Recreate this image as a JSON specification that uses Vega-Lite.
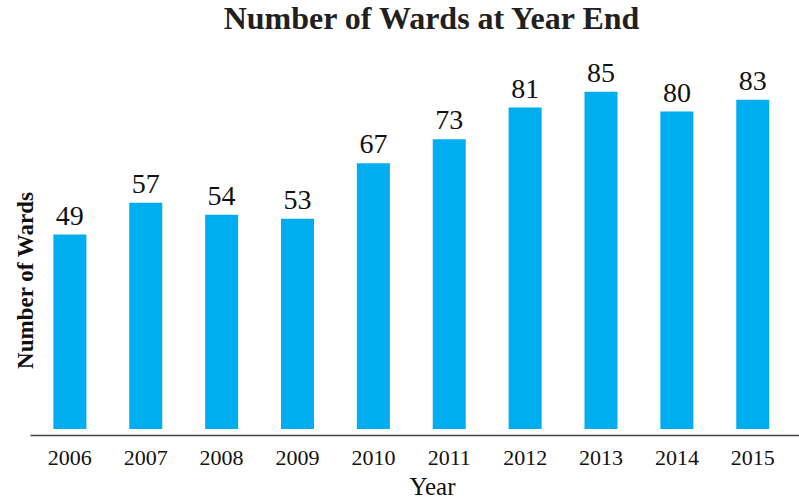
{
  "$schema": "https://vega.github.io/schema/vega-lite/v6.json",
  "width": 769,
  "height": 379,
  "autosize": {"type": "none"},
  "padding": {"left": 30, "top": 56, "right": 0, "bottom": 63},
  "title": {
    "text": "Number of Wards at Year End",
    "font": "Liberation Serif",
    "fontSize": 32,
    "fontWeight": "bold",
    "color": "#231f20",
    "anchor": "middle",
    "frame": "group",
    "dx": 17,
    "baseline": "alphabetic",
    "offset": -5
  },
  "data": {
    "values": [
      {"Year": "2006", "Wards": 49},
      {"Year": "2007", "Wards": 57},
      {"Year": "2008", "Wards": 54},
      {"Year": "2009", "Wards": 53},
      {"Year": "2010", "Wards": 67},
      {"Year": "2011", "Wards": 73},
      {"Year": "2012", "Wards": 81},
      {"Year": "2013", "Wards": 85},
      {"Year": "2014", "Wards": 80},
      {"Year": "2015", "Wards": 83}
    ]
  },
  "encoding": {
    "x": {
      "field": "Year",
      "type": "ordinal",
      "scale": {"paddingInner": 0.565, "paddingOuter": 0.35, "align": 0.44},
      "axis": {
        "orient": "bottom",
        "labelAngle": 0,
        "labelFont": "Liberation Serif",
        "labelFontSize": 22,
        "labelColor": "#111111",
        "labelPadding": 12,
        "ticks": false,
        "tickSize": 0,
        "domainColor": "#444444",
        "domainWidth": 1.5,
        "grid": false,
        "title": "Year",
        "titleFont": "Liberation Serif",
        "titleFontSize": 25,
        "titleFontWeight": "normal",
        "titleColor": "#111111",
        "titleX": 402,
        "titleY": 59,
        "titleBaseline": "alphabetic",
        "titleAlign": "center"
      }
    },
    "y": {
      "field": "Wards",
      "type": "quantitative",
      "scale": {"domain": [-1.5, 94], "nice": false, "zero": false},
      "axis": {
        "domain": false,
        "ticks": false,
        "labels": false,
        "grid": false,
        "title": "Number of Wards",
        "titleFont": "Liberation Serif",
        "titleFontSize": 23,
        "titleFontWeight": "bold",
        "titleColor": "#111111",
        "titleAngle": -90,
        "titleX": 2,
        "titleY": 224,
        "titleBaseline": "alphabetic",
        "titleAlign": "center"
      }
    }
  },
  "layer": [
    {
      "mark": {"type": "bar", "color": "#00adef"},
      "encoding": {"y2": {"datum": 0}}
    },
    {
      "mark": {
        "type": "text",
        "font": "Liberation Serif",
        "fontSize": 28,
        "color": "#111111",
        "baseline": "alphabetic",
        "align": "center",
        "dy": -10
      },
      "encoding": {"text": {"field": "Wards", "type": "quantitative"}}
    }
  ],
  "config": {"view": {"stroke": null}}
}
